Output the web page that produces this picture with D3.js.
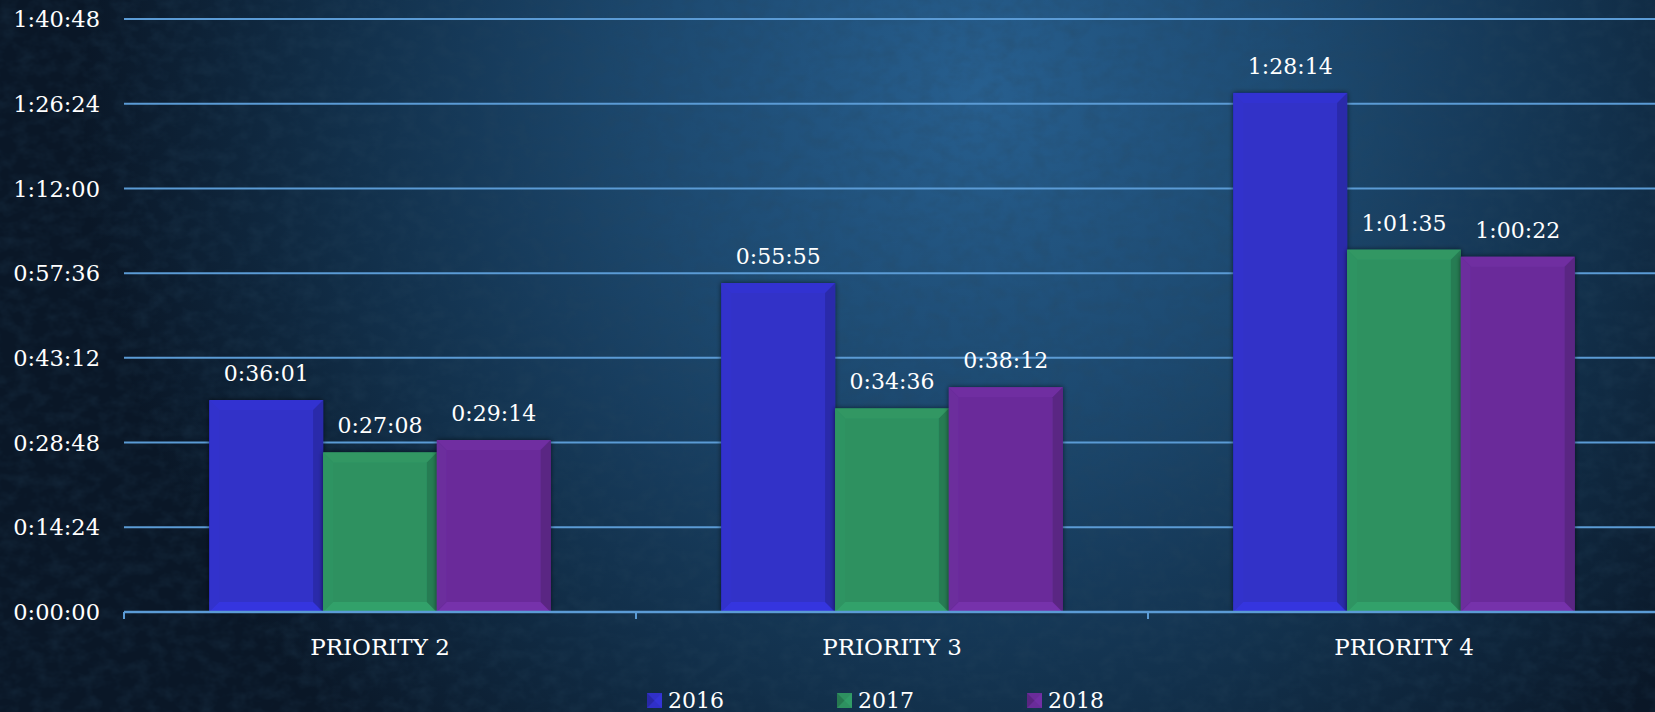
<!DOCTYPE html>
<html>
<head>
<meta charset="utf-8">
<script src="https://cdn.jsdelivr.net/npm/d3@7"></script>
<style>
  html, body { margin: 0; padding: 0; background: #0e2034; }
  svg text { font-family: "DejaVu Serif", serif; fill: #fff; }
</style>
</head>
<body>
<div id="chart"></div>
<script>
// chart data (times are in seconds)
const categories = ["PRIORITY 2", "PRIORITY 3", "PRIORITY 4"];
const years = ["2016", "2017", "2018"];
const values2016 = [2161, 3355, 5294];   // 0:36:01, 0:55:55, 1:28:14
const values2017 = [1628, 2076, 3695];   // 0:27:08, 0:34:36, 1:01:35
const values2018 = [1754, 2292, 3622];   // 0:29:14, 0:38:12, 1:00:22
const yTicks = [0, 864, 1728, 2592, 3456, 4320, 5184, 6048];
const colors = ["#3030c8", "#2e9160", "#6a2c9a"];

const W = 1655, H = 712;
const series = [values2016, values2017, values2018];

const fmt = (s) => {
    const h = Math.floor(s / 3600);
    const m = Math.floor((s % 3600) / 60);
    const sec = s % 60;
    return `${h}:${String(m).padStart(2, "0")}:${String(sec).padStart(2, "0")}`;
};

const svg = d3.select("#chart").append("svg")
    .attr("width", W)
    .attr("height", H);

const defs = svg.append("defs");
const bg = defs.append("radialGradient")
    .attr("id", "bg")
    .attr("gradientUnits", "userSpaceOnUse")
    .attr("cx", 980).attr("cy", 90).attr("r", 900);
bg.append("stop").attr("offset", "0%").attr("stop-color", "#275f8f");
bg.append("stop").attr("offset", "35%").attr("stop-color", "#1d4a71");
bg.append("stop").attr("offset", "70%").attr("stop-color", "#12304b");
bg.append("stop").attr("offset", "100%").attr("stop-color", "#0a1727");

const tex = defs.append("filter").attr("id", "tex")
    .attr("x", 0).attr("y", 0).attr("width", "100%").attr("height", "100%");
tex.append("feTurbulence")
    .attr("type", "fractalNoise")
    .attr("baseFrequency", "0.06 0.08")
    .attr("numOctaves", 3)
    .attr("seed", 11);
tex.append("feColorMatrix")
    .attr("type", "matrix")
    .attr("values", "0 0 0 0 0.02  0 0 0 0 0.06  0 0 0 0 0.11  0 0 0 -1.6 1.0");

const shadow = defs.append("filter").attr("id", "shadow")
    .attr("x", "-10%").attr("y", "-10%").attr("width", "120%").attr("height", "120%");
shadow.append("feDropShadow")
    .attr("dx", 0).attr("dy", 0).attr("stdDeviation", 2.5)
    .attr("flood-color", "#000").attr("flood-opacity", 0.6);

svg.append("rect").attr("width", W).attr("height", H).attr("fill", "url(#bg)");
svg.append("rect").attr("width", W).attr("height", H).attr("filter", "url(#tex)").attr("opacity", 0.3);

// scales
const x0 = d3.scaleBand().domain(categories).range([124, 1660]);
const x1 = d3.scaleBand().domain(years).range([0, x0.bandwidth()]).paddingOuter(0.75);
const y = d3.scaleLinear().domain([0, 6048]).range([612, 19]);

// gridlines
svg.append("g")
    .selectAll("line")
    .data(yTicks.slice(1))
    .join("line")
    .attr("x1", 124).attr("x2", W)
    .attr("y1", d => y(d)).attr("y2", d => y(d))
    .attr("stroke", "#5b9bd5")
    .attr("stroke-width", 2);

// y labels
svg.append("g")
    .selectAll("text")
    .data(yTicks)
    .join("text")
    .attr("x", 100)
    .attr("y", d => y(d))
    .attr("dy", "0.36em")
    .attr("text-anchor", "end")
    .style("font-size", "22.5px")
    .text(fmt);

// bars
const bevel = 10;
const barData = [];
categories.forEach((c, i) => {
    years.forEach((yr, j) => {
        barData.push({ cat: c, year: yr, value: series[j][i], color: colors[j] });
    });
});

const bars = svg.append("g")
    .selectAll("g")
    .data(barData)
    .join("g")
    .attr("filter", "url(#shadow)");

bars.each(function(d) {
    const g = d3.select(this);
    const bx = x0(d.cat) + x1(d.year);
    const bw = x1.bandwidth();
    const by = y(d.value);
    const bh = y(0) - by;
    const b = Math.min(bevel, bh / 2);
    const base = d3.color(d.color);
    const poly = (pts) => pts.map(p => p.join(",")).join(" ");
    g.append("rect")
        .attr("x", bx).attr("y", by).attr("width", bw).attr("height", bh)
        .attr("fill", base.formatHex());
    g.append("polygon") // top
        .attr("points", poly([[bx, by], [bx + bw, by], [bx + bw - b, by + b], [bx + b, by + b]]))
        .attr("fill", base.brighter(0.12).formatHex());
    g.append("polygon") // left
        .attr("points", poly([[bx, by], [bx + b, by + b], [bx + b, by + bh - b], [bx, by + bh]]))
        .attr("fill", base.brighter(0.06).formatHex());
    g.append("polygon") // bottom
        .attr("points", poly([[bx, by + bh], [bx + bw, by + bh], [bx + bw - b, by + bh - b], [bx + b, by + bh - b]]))
        .attr("fill", base.brighter(0.3).formatHex());
    g.append("polygon") // right
        .attr("points", poly([[bx + bw, by], [bx + bw, by + bh], [bx + bw - b, by + bh - b], [bx + bw - b, by + b]]))
        .attr("fill", base.darker(0.45).formatHex());
});

// value labels
svg.append("g")
    .selectAll("text")
    .data(barData)
    .join("text")
    .attr("x", d => x0(d.cat) + x1(d.year) + x1.bandwidth() / 2)
    .attr("y", d => y(d.value) - 19)
    .attr("text-anchor", "middle")
    .style("font-size", "22px")
    .text(d => fmt(d.value));

// x axis line and ticks
svg.append("line")
    .attr("x1", 124).attr("x2", W)
    .attr("y1", y(0)).attr("y2", y(0))
    .attr("stroke", "#5b9bd5")
    .attr("stroke-width", 2.5);
svg.append("g")
    .selectAll("line")
    .data(categories)
    .join("line")
    .attr("x1", d => x0(d)).attr("x2", d => x0(d))
    .attr("y1", y(0)).attr("y2", y(0) + 7)
    .attr("stroke", "#5b9bd5")
    .attr("stroke-width", 2);

// category labels
svg.append("g")
    .selectAll("text")
    .data(categories)
    .join("text")
    .attr("x", d => x0(d) + x0.bandwidth() / 2)
    .attr("y", 655)
    .attr("text-anchor", "middle")
    .style("font-size", "23px")
    .text(d => d);

// legend
const legend = svg.append("g")
    .selectAll("g")
    .data(years)
    .join("g")
    .attr("transform", (d, i) => `translate(${647 + i * 190},693)`);
legend.each(function(d, i) {
    const g = d3.select(this);
    const c = d3.color(colors[i]);
    const s = 15;
    g.append("rect").attr("width", s).attr("height", s).attr("fill", c.formatHex());
    g.append("polygon")
        .attr("points", `0,0 ${s / 2},${s / 2} 0,${s}`)
        .attr("fill", c.darker(0.5).formatHex());
    g.append("polygon")
        .attr("points", `${s},0 ${s / 2},${s / 2} ${s},${s}`)
        .attr("fill", c.brighter(0.2).formatHex());
    g.append("text")
        .attr("x", 21)
        .attr("y", s)
        .style("font-size", "22px")
        .text(d);
});
</script>
</body>
</html>
